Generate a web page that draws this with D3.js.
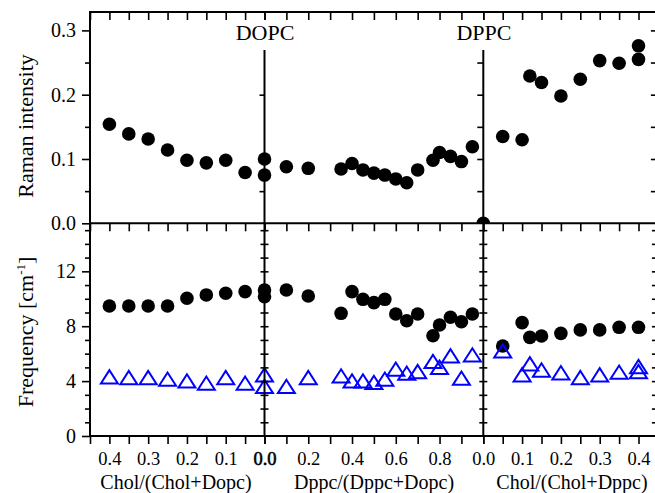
<!DOCTYPE html>
<html>
<head>
<meta charset="utf-8">
<script src="https://d3js.org/d3.v7.min.js"></script>
<style>
  body { margin: 0; background: #fff; }
  svg { display: block; font-family: "Liberation Serif", "Times New Roman", serif; }
</style>
</head>
<body>
<svg width="655" height="493"></svg>
<script>
/** Raman intensity and frequency of membrane mixtures, three composition panels **/

// ---- data ----
// left panel : Chol/(Chol+Dopc), drawn from 0.4 down to 0
var cholDopcX = [0.4, 0.35, 0.3, 0.25, 0.2, 0.15, 0.1, 0.05];
var cholDopcRaman = [0.154, 0.139, 0.131, 0.114, 0.098, 0.094, 0.098, 0.079];
var cholDopcFreq = [9.47, 9.47, 9.47, 9.47, 10.04, 10.28, 10.4, 10.52];
var cholDopcLow = [4.3, 4.25, 4.25, 4.13, 4.0, 3.84, 4.25, 3.84];

// middle panel : Dppc/(Dppc+Dopc)
var dppcX = [0, 0, 0.1, 0.2, 0.35, 0.4, 0.45, 0.5, 0.55, 0.6, 0.65, 0.7, 0.77, 0.8, 0.85, 0.9, 0.95];
var dppcRaman = [0.1, 0.075, 0.088, 0.0855, 0.0845, 0.093, 0.083, 0.078, 0.075, 0.069, 0.063, 0.083, 0.098, 0.110, 0.104, 0.096, 0.119];
var dppcFreq = [10.64, 10.15, 10.64, 10.2, 8.94, 10.52, 9.96, 9.72, 9.96, 8.89, 8.4, 8.89, 7.31, 8.09, 8.65, 8.33, 8.89];
var dppcLow = [4.45, 3.6, 3.6, 4.25, 4.37, 4.0, 4.0, 3.89, 4.13, 4.86, 4.57, 4.69, 5.42, 5.0, 5.83, 4.2, 5.9];

// right panel : Chol/(Chol+Dppc)
var cholDppcRamanX = [0, 0.05, 0.1, 0.12, 0.15, 0.2, 0.25, 0.3, 0.35, 0.4, 0.4];
var cholDppcRaman = [0, 0.135, 0.13, 0.229, 0.219, 0.198, 0.224, 0.253, 0.249, 0.255, 0.276];
var cholDppcFreqX = [0.05, 0.1, 0.12, 0.15, 0.2, 0.25, 0.3, 0.35, 0.4];
var cholDppcFreq = [6.56, 8.26, 7.19, 7.29, 7.48, 7.73, 7.73, 7.92, 7.92];
var cholDppcLowX = [0.05, 0.1, 0.12, 0.15, 0.2, 0.25, 0.3, 0.35, 0.4, 0.4];
var cholDppcLow = [6.2, 4.45, 5.25, 4.8, 4.6, 4.25, 4.45, 4.64, 5.05, 4.69];

// tick labels (the shared 0.0 at each divider is written once)
var ramanTicks = [0, 0.1, 0.2, 0.3];
var freqTicks = [0, 4, 8, 12];
var cholDopcTicks = [0.4, 0.3, 0.2, 0.1, 0.0];
var dppcTicks = [0.2, 0.4, 0.6, 0.8];
var cholDppcTicks = [0.0, 0.1, 0.2, 0.3, 0.4];

var panelNames = ["DOPC", "DPPC"];
var xTitles = ["Chol/(Chol+Dopc)", "Dppc/(Dppc+Dopc)", "Chol/(Chol+Dppc)"];

// ---- layout ----
var svg = d3.select("svg");
var top_ = 12, mid = 223.3, bottom = 436;
var tickFont = 18.5;

var xLeft = d3.scaleLinear().domain([0.45, 0]).range([90, 264.5]);
var xMid = d3.scaleLinear().domain([0, 1]).range([264.5, 483.3]);
var xRight = d3.scaleLinear().domain([0, 0.45]).range([483.3, 657.9]);
var yTop = d3.scaleLinear().domain([0, 0.33]).range([mid, 11.1]);
var yBot = d3.scaleLinear().domain([0, 15.5]).range([bottom, mid]);

function steps(a, b, s) {
  var out = [];
  for (var v = a; v <= b + 1e-9; v += s) out.push(+v.toFixed(3));
  return out;
}

/** draws an axis group and strips the d3 default styling **/
function addAxis(axis, tx, ty, withText) {
  var g = svg.append("g")
    .attr("transform", "translate(" + tx + "," + ty + ")")
    .call(axis);
  g.select(".domain").remove();
  g.selectAll("line").attr("stroke", "#000").attr("stroke-width", 1.6);
  g.attr("font-family", null).attr("font-size", null);
  g.selectAll("text").attr("fill", "#000").style("font-size", tickFont + "px");
  if (!withText) g.selectAll("text").remove();
  return g;
}

function setup_axes() {
  var xs = [
    {s: xLeft, minor: steps(0, 0.45, 0.05), lab: cholDopcTicks},
    {s: xMid, minor: steps(0, 1, 0.1), lab: dppcTicks},
    {s: xRight, minor: steps(0, 0.45, 0.05), lab: cholDppcTicks}
  ];
  xs.forEach(function (p, i) {
    // top frame and the line between rows: ticks pointing down
    addAxis(d3.axisBottom(p.s).tickValues(p.minor).tickSize(8), 0, top_, false);
    addAxis(d3.axisBottom(p.s).tickValues(p.minor).tickSize(8), 0, mid, false);
    // bottom axis with labels
    addAxis(d3.axisBottom(p.s).tickValues(p.minor).tickSize(8), 0, bottom, false);
    var g = addAxis(d3.axisBottom(p.s).tickValues(p.lab).tickSize(0).tickPadding(16)
      .tickFormat(d3.format(".1f")), 0, bottom, true);
    // the 0.0 on the first divider is printed twice in the original, so it looks heavier
    if (i === 0) g.selectAll("text").filter((d) => d === 0)
      .attr("stroke", "#000").attr("stroke-width", 0.6);
  });

  // left y axes
  addAxis(d3.axisLeft(yTop).tickValues(ramanTicks).tickSize(8).tickPadding(6)
    .tickFormat(d3.format(".1f")), 90, 0, true).selectAll("text").style("font-size", "20px");
  addAxis(d3.axisLeft(yTop).tickValues([0.05, 0.15, 0.25]).tickSize(5), 90, 0, false);
  addAxis(d3.axisLeft(yBot).tickValues(freqTicks).tickSize(8).tickPadding(6)
    .tickFormat(d3.format("d")), 90, 0, true).selectAll("text").style("font-size", "20px");
  addAxis(d3.axisLeft(yBot).tickValues(steps(1, 15, 1).filter(function (d) { return d % 4; }))
    .tickSize(5), 90, 0, false);

  // right frame, ticks inward
  addAxis(d3.axisLeft(yTop).tickValues(steps(0.05, 0.3, 0.05)).tickSize(7), 657.9, 0, false);
  addAxis(d3.axisLeft(yBot).tickValues(steps(1, 15, 1)).tickSize(6), 657.9, 0, false);

  // dividers
  addAxis(d3.axisLeft(yTop).tickValues([0.05, 0.1, 0.2]).tickSize(5), 264.5, 0, false);
  addAxis(d3.axisLeft(yTop).tickValues(steps(0.05, 0.25, 0.05)).tickSize(6), 483.3, 0, false);
  [264.5, 483.3].forEach(function (x) {
    addAxis(d3.axisLeft(yBot).tickValues(steps(1, 15, 1)).tickSize(4), x, 0, false);
    addAxis(d3.axisRight(yBot).tickValues(steps(1, 15, 1)).tickSize(4), x, 0, false);
  });

  // frame lines
  var frame = svg.append("g").attr("stroke", "#000").attr("stroke-width", 2).attr("fill", "none");
  frame.append("path").attr("d", "M90," + top_ + "H657.9V" + bottom + "H90Z");
  frame.append("path").attr("d", "M90," + mid + "H657.9");
  frame.append("path").attr("d", "M264.5,50V" + bottom);
  frame.append("path").attr("d", "M483.3,50V" + bottom);

  // titles
  svg.append("text")
    .attr("transform", "translate(33,126) rotate(-90)")
    .style("text-anchor", "middle").style("font-size", "22px")
    .text("Raman intensity");
  var fq = svg.append("text")
    .attr("transform", "translate(33,332) rotate(-90)")
    .style("text-anchor", "middle").style("font-size", "22px");
  fq.append("tspan").text("Frequency [cm");
  fq.append("tspan").attr("dy", -8).style("font-size", "13px").text("-1");
  fq.append("tspan").attr("dy", 8).text("]");

  [176, 374, 572].forEach(function (cx, i) {
    svg.append("text").attr("x", cx).attr("y", 489)
      .style("text-anchor", "middle").style("font-size", "20px")
      .text(xTitles[i]);
  });
  [265, 484].forEach(function (cx, i) {
    svg.append("text").attr("x", cx).attr("y", 40)
      .style("text-anchor", "middle").style("font-size", "22px")
      .text(panelNames[i]);
  });
}

/** filled black circles **/
function draw_circles(g, xs, ys, xScale, yScale) {
  g.selectAll(null)
    .data(d3.zip(xs, ys))
    .enter()
    .append("circle")
      .attr("cx", (d) => xScale(d[0]))
      .attr("cy", (d) => yScale(d[1]))
      .attr("r", 6.8)
      .attr("fill", "#000");
}

/** open blue triangles **/
function draw_triangles(g, xs, ys, xScale, yScale) {
  g.selectAll(null)
    .data(d3.zip(xs, ys))
    .enter()
    .append("path")
      .attr("transform", (d) => "translate(" + xScale(d[0]) + "," + yScale(d[1]) + ")")
      .attr("d", "M-8.5,6.5L0,-6.8L8.5,6.5Z")
      .attr("fill", "none")
      .attr("stroke", "#0000ff")
      .attr("stroke-width", 2);
}

function setup_points() {
  var defs = svg.append("defs");
  defs.append("clipPath").attr("id", "clipTop")
    .append("rect").attr("x", 0).attr("y", top_).attr("width", 655).attr("height", mid - top_);
  defs.append("clipPath").attr("id", "clipBot")
    .append("rect").attr("x", 0).attr("y", mid).attr("width", 655).attr("height", bottom - mid);

  var gTop = svg.append("g").attr("clip-path", "url(#clipTop)");
  draw_circles(gTop, cholDopcX, cholDopcRaman, xLeft, yTop);
  draw_circles(gTop, dppcX, dppcRaman, xMid, yTop);
  draw_circles(gTop, cholDppcRamanX, cholDppcRaman, xRight, yTop);

  var gBot = svg.append("g").attr("clip-path", "url(#clipBot)");
  draw_circles(gBot, cholDopcX, cholDopcFreq, xLeft, yBot);
  draw_circles(gBot, dppcX, dppcFreq, xMid, yBot);
  draw_circles(gBot, cholDppcFreqX, cholDppcFreq, xRight, yBot);
  draw_triangles(gBot, cholDopcX, cholDopcLow, xLeft, yBot);
  draw_triangles(gBot, dppcX, dppcLow, xMid, yBot);
  draw_triangles(gBot, cholDppcLowX, cholDppcLow, xRight, yBot);
}

setup_points();
setup_axes();
</script>
</body>
</html>
